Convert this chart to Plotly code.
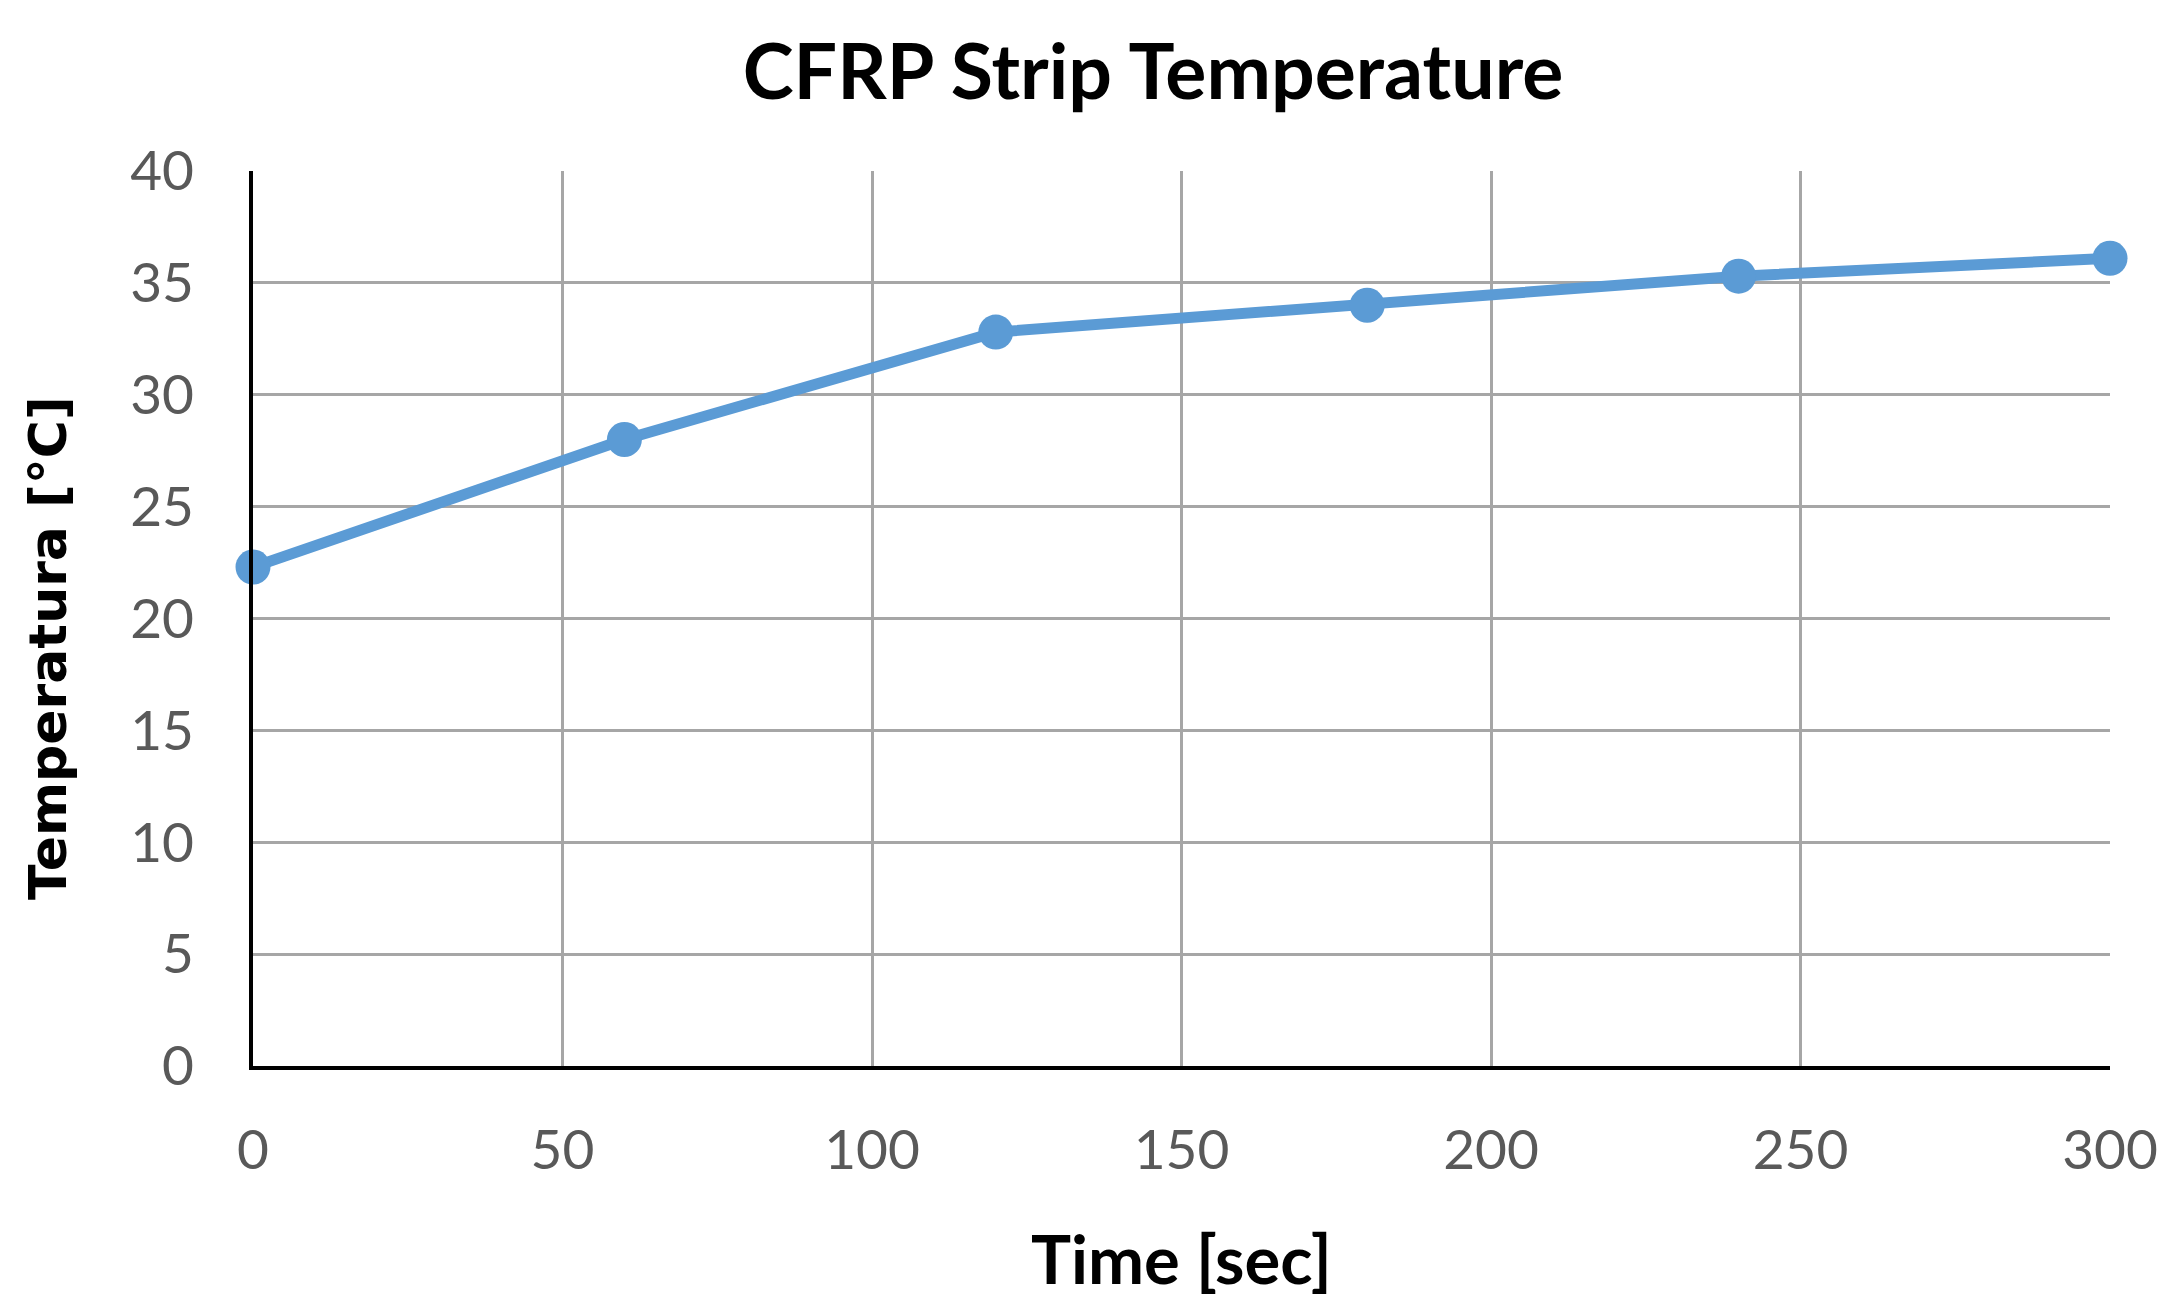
import plotly.graph_objects as go

time_sec = [0, 60, 120, 180, 240, 300]
temperature = [22.3, 28.0, 32.8, 34.0, 35.3, 36.1]
x_ticks = [0, 50, 100, 150, 200, 250, 300]
y_ticks = [0, 5, 10, 15, 20, 25, 30, 35, 40]

fig = go.Figure()
fig.add_trace(go.Scatter(
    x=time_sec, y=temperature, mode="lines+markers",
    line=dict(color="#5B9BD5", width=11),
    marker=dict(color="#5B9BD5", size=35),
    cliponaxis=False, showlegend=False,
))

tick_font = dict(family="Lato", size=55, color="#595959")
fig.update_layout(
    width=2166, height=1310,
    paper_bgcolor="white", plot_bgcolor="white",
    margin=dict(l=245, r=64, t=163, b=252),
    title=dict(text="<b>CFRP Strip Temperature</b>", x=1145 / 2166, xref="container",
               xanchor="center",
               y=1 - 64 / 1310, yanchor="middle",
               font=dict(family="Lato", size=77, color="black")),
    xaxis=dict(range=[0, 300], tickvals=x_ticks, showgrid=True,
               gridcolor="#A6A6A6", gridwidth=3, zeroline=False,
               showline=True, linecolor="black", linewidth=4,
               tickfont=tick_font, ticks="", ticklabelstandoff=33),
    yaxis=dict(range=[0, 40], tickvals=y_ticks, showgrid=True,
               gridcolor="#A6A6A6", gridwidth=3, zeroline=False,
               showline=True, linecolor="black", linewidth=4,
               tickfont=tick_font, ticks="", ticklabelstandoff=44),
    annotations=[
        dict(text="<b>Time [sec]</b>", xref="paper", yref="paper",
             x=0.5, y=-(1249 - 1057) / (1057 - 163), xanchor="center", yanchor="middle",
             showarrow=False, font=dict(family="Lato", size=67, color="black")),
        dict(text="<b>Temperatura [°C]</b>", xref="paper", yref="paper",
             x=-(245 - 40) / (2101 - 245), y=0.467,
             xanchor="center", yanchor="middle", textangle=-90,
             showarrow=False, font=dict(family="DejaVu Sans", size=52, color="black")),
    ],
)

fig.write_html("out.html")
